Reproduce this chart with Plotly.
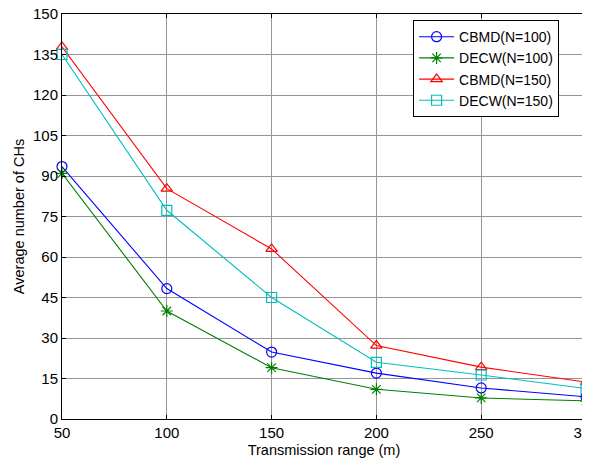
import plotly.graph_objects as go

x_range = [50, 100, 150, 200, 250, 300]
cbmd_100 = [93.5, 48.3, 24.8, 17.0, 11.5, 8.2]
decw_100 = [91.0, 40.0, 19.0, 11.0, 7.8, 6.7]
cbmd_150 = [137.8, 85.3, 63.0, 27.2, 19.2, 13.7]
decw_150 = [135.0, 77.3, 45.0, 21.0, 16.3, 11.3]

y_ticks = [0, 15, 30, 45, 60, 75, 90, 105, 120, 135, 150]
x_ticks = [50, 100, 150, 200, 250, 300]

series = [
    ("CBMD(N=100)", cbmd_100, "#0000ff", "circle-open"),
    ("DECW(N=100)", decw_100, "#008000", "asterisk-open"),
    ("CBMD(N=150)", cbmd_150, "#ff0000", "triangle-up-open"),
    ("DECW(N=150)", decw_150, "#00bfbf", "square-open"),
]

fig = go.Figure()
for name, ys, color, sym in series:
    fig.add_trace(go.Scatter(
        x=x_range, y=ys, name=name, mode="lines+markers", cliponaxis=False,
        line=dict(color=color, width=1.1),
        marker=dict(symbol=sym, size=10, color=color, line=dict(color=color, width=1.2)),
    ))

axis_common = dict(
    showgrid=True, gridcolor="#959595", gridwidth=1,
    ticks="inside", ticklen=4, tickcolor="black",
    showline=True, linecolor="black", linewidth=1, mirror="ticks",
    zeroline=False, automargin=False, ticklabeloverflow="allow",
    tickfont=dict(family="Liberation Sans, Arial", size=15, color="black"),
    title_font=dict(family="Liberation Sans, Arial", size=14.5, color="black"),
)

fig.update_xaxes(range=[50, 300], tickvals=x_ticks,
                 title_text="Transmission range (m)", title_standoff=4, **axis_common)
fig.update_yaxes(range=[0, 150], tickvals=y_ticks,
                 title_text="Average number of CHs", title_standoff=4, **axis_common)

fig.update_layout(
    width=582, height=450,
    margin=dict(l=54, r=4, t=6, b=39),
    paper_bgcolor="white", plot_bgcolor="white",
    showlegend=True,
    legend=dict(
        x=0.67, y=0.985, xanchor="left", yanchor="top",
        bgcolor="white", bordercolor="black", borderwidth=1,
        font=dict(family="Liberation Sans, Arial", size=14, color="black"),
        tracegroupgap=0, itemwidth=35,
    ),
)

fig.write_html("out.html")
